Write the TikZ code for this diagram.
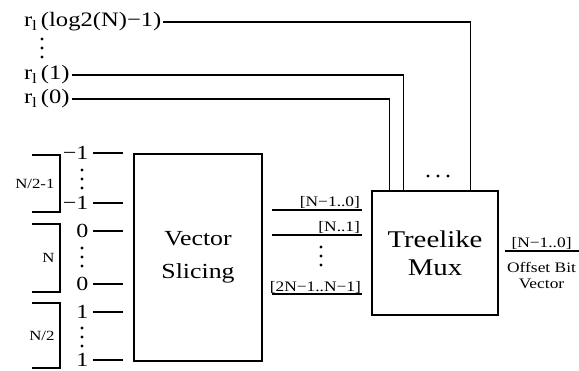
\documentclass[tikz,border=0pt]{standalone}
\usepackage{fontspec}
\setmainfont{Liberation Serif}[FakeStretch=1.2]
\usetikzlibrary{positioning, calc}
\tikzset{
  every picture/.style={line width=1.1pt},
  block/.style={draw, align=center, inner sep=0pt},
  sel/.style={font=\fontsize{20.5}{22}\selectfont, inner sep=1.5pt, anchor=west},
  bit/.style={font=\fontsize{20}{22}\selectfont, inner sep=0pt, anchor=east},
  grp/.style={font=\fontsize{14}{16}\selectfont, inner sep=1pt, anchor=east},
  bus/.style={font=\fontsize{14.5}{16}\selectfont, inner sep=1.5pt},
}
\begin{document}
\begin{tikzpicture}[x=1pt, y=-1pt]
  \useasboundingbox (0,0) rectangle (579,370);
  % blocks
  \node[block, minimum width=128pt, minimum height=207pt, font=\fontsize{21.5}{33}\selectfont] (vs) at (198,257.5) {Vector\\Slicing};
  \node[block, minimum width=126pt, minimum height=124pt, font=\fontsize{24}{28}\selectfont] (mux) at (435,253) {Treelike\\Mux};
  % select bits into the mux
  \node[sel] (r2) at (22,22) {r\textsubscript{l}\,(log2(N)−1)};
  \node[sel] (r1) at (22,75) {r\textsubscript{l}\,(1)};
  \node[sel] (r0) at (22,99) {r\textsubscript{l}\,(0)};
  \draw (r0.east) -| ([xshift=18pt]mux.north west);
  \draw (r1.east) -| ([xshift=32pt]mux.north west);
  \draw (r2.east) -| ([xshift=99pt]mux.north west);
  % input bits
  \foreach \n/\t/\y in {a/−1/153, b/−1/203, c/0/231, d/0/284, e/1/312, f/1/360} {
    \node[bit] (in\n) at (89,\y) {\t};
    \draw ([xshift=4pt]in\n.east) -- ++(30,0);
  }
  % groups
  \foreach \n/\t/\b/\lab in {a/155/212/{N/2-1}, b/224/292/N, c/303/368/{N/2}} {
    \draw (32,\t) -| (60,\b) -- (32,\b);
    \node[grp] (g\n) at (56,{(\t+\b)/2}) {\lab};
  }
  % slices
  \draw (272,210) -- (362,210) node[bus, above left] {[N−1..0]};
  \draw (272,235) -- (362,235) node[bus, above left] {[N..1]};
  \draw (272,294) -- (362,294) node[bus, above left, inner sep=0.5pt] {[2N−1..N−1]};
  % output
  \draw ([shift={(6,-2)}]mux.east) -- ++(74,0)
    node[midway, bus, above] {[N−1..0]}
    node[midway, bus, below=9pt, align=center] {Offset Bit\\Vector};
  % dots
  \foreach \x/\y in {42/39, 42/48, 42/57, 82/170, 82/179, 82/188, 82/248, 82/257, 82/266,
    82/328, 82/337, 82/346, 321/247, 321/256, 321/265, 428/176, 438/176, 448/176}
    \fill (\x,\y) circle (1.7pt);
\end{tikzpicture}
\end{document}
